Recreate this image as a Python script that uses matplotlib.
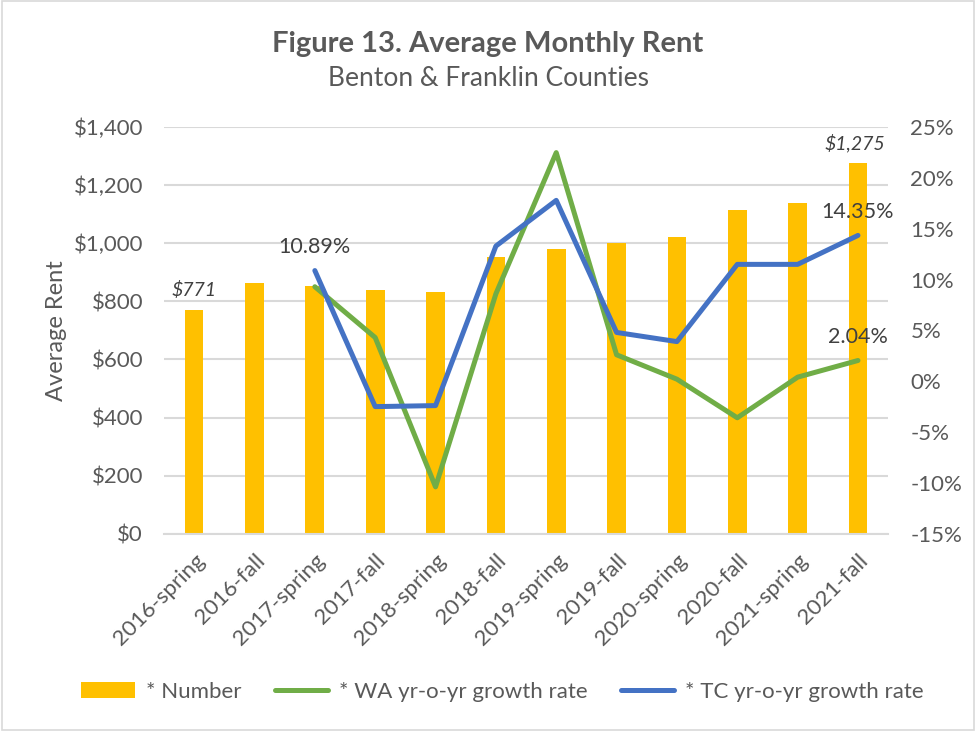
import matplotlib.pyplot as plt
import numpy as np
from matplotlib.ticker import FuncFormatter

plt.rcParams['font.family'] = ['Lato', 'DejaVu Sans']

periods = ['2016-spring', '2016-fall', '2017-spring', '2017-fall', '2018-spring',
           '2018-fall', '2019-spring', '2019-fall', '2020-spring', '2020-fall',
           '2021-spring', '2021-fall']
rent = [771, 862, 853, 840, 831, 953, 982, 1000, 1021, 1114, 1138, 1275]
# growth rates start at 2017-spring
wa_growth = [np.nan, np.nan, 9.3, 4.3, -10.4, 8.6, 22.5, 2.6, 0.2, -3.6, 0.4, 2.04]
tc_growth = [np.nan, np.nan, 10.89, -2.5, -2.4, 13.3, 17.8, 4.8, 3.9, 11.5, 11.5, 14.35]

grey = '#595959'
x = np.arange(len(periods))

fig = plt.figure(figsize=(9.76, 7.31), dpi=100)
ax = fig.add_axes([0.168, 0.270, 0.742, 0.556])
ax2 = ax.twinx()

ax.bar(x, rent, width=0.31, color='#FFC000', zorder=2, label='* Number')
ax.set_ylim(0, 1400)
ax.set_yticks(np.arange(0, 1401, 200))
ax.yaxis.set_major_formatter(FuncFormatter(lambda v, p: '${:,.0f}'.format(v)))
ax.grid(axis='y', color='#D9D9D9', linewidth=1.5, zorder=0)
ax.set_axisbelow(True)
ax.set_xlim(-0.5, len(periods) - 0.5)
ax.set_xticks(x)
ax.set_xticklabels(periods, rotation=45, ha='right', rotation_mode='anchor')
ax.set_ylabel('Average Rent', fontsize=17, color=grey, labelpad=5)

l1, = ax2.plot(x, wa_growth, color='#70AD47', linewidth=3.6, label='* WA yr-o-yr growth rate',
               solid_capstyle='round', solid_joinstyle='round')
l2, = ax2.plot(x, tc_growth, color='#4472C4', linewidth=3.6, label='* TC yr-o-yr growth rate',
               solid_capstyle='round', solid_joinstyle='round')
ax2.set_ylim(-15, 25)
ax2.set_yticks(np.arange(-15, 26, 5))
ax2.yaxis.set_major_formatter(FuncFormatter(lambda v, p: '{:.0f}%'.format(v)))

for a in (ax, ax2):
    for s in a.spines.values():
        s.set_visible(False)
    a.tick_params(length=0, labelsize=16, colors=grey)
ax.tick_params(axis='y', pad=15)
ax2.tick_params(axis='y', pad=16)
ax.tick_params(axis='x', pad=12)
ax.spines['bottom'].set_visible(True)
ax.spines['bottom'].set_color('#D9D9D9')
ax.spines['bottom'].set_linewidth(1.5)

# data labels
ax.annotate('$771', (0, rent[0]), xytext=(0, 8), textcoords='offset points',
            ha='center', va='bottom', fontsize=14, style='italic', color='#404040')
ax.annotate('$1,275', (11, rent[11]), xytext=(-2, 8), textcoords='offset points',
            ha='center', va='bottom', fontsize=14, style='italic', color='#404040')
ax2.annotate('10.89%', (2, tc_growth[2]), xytext=(0, 10), textcoords='offset points',
             ha='center', va='bottom', fontsize=15.5, color='#404040')
ax2.annotate('14.35%', (11, tc_growth[11]), xytext=(0, 10), textcoords='offset points',
             ha='center', va='bottom', fontsize=15.5, color='#404040')
ax2.annotate('2.04%', (11, wa_growth[11]), xytext=(0, 10), textcoords='offset points',
             ha='center', va='bottom', fontsize=15.5, color='#404040')

fig.text(0.5, 0.940, 'Figure 13. Average Monthly Rent', ha='center', va='center',
         fontsize=21, fontweight='bold', color=grey)
fig.text(0.5, 0.892, 'Benton & Franklin Counties', ha='center', va='center',
         fontsize=19, color=grey)

handles = [ax.containers[0], l1, l2]
fig.legend(handles, [h.get_label() for h in handles], loc='center', ncol=3,
           bbox_to_anchor=(0.515, 0.054), frameon=False, fontsize=16, labelcolor=grey,
           handlelength=2.4, handletextpad=0.5, columnspacing=1.5)

fig.patches.append(plt.Rectangle((0.002, 0.002), 0.996, 0.996, transform=fig.transFigure,
                                 fill=False, edgecolor='#D9D9D9', linewidth=1.2))

fig.savefig('out.png', dpi=100)
